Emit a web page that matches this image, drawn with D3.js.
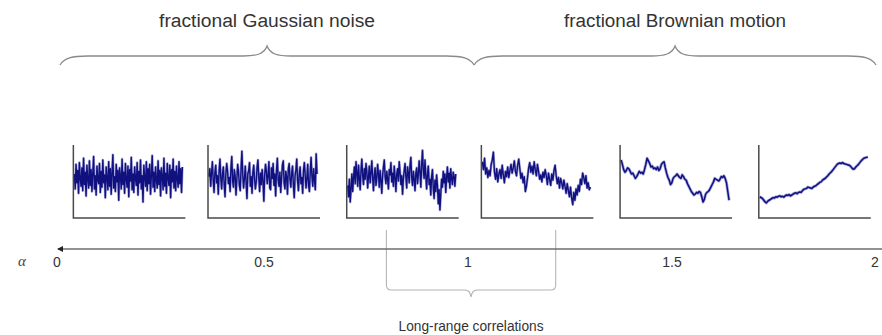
<!DOCTYPE html>
<html>
<head>
<meta charset="utf-8">
<script src="https://cdn.jsdelivr.net/npm/d3@7"></script>
<style>
  html, body { margin: 0; padding: 0; background: #fff; }
  svg { display: block; }
  text { font-family: "Liberation Sans", Arial, sans-serif; fill: #333; }
</style>
</head>
<body>
<svg id="chart"></svg>
<script>
// alpha axis
const alphaTicks = [0, 0.5, 1, 1.5, 2];
const tickLabels = ["0", "0.5", "1", "1.5", "2"];

// braces over the axis (alpha ranges)
const braceRanges = [[0, 1.015], [1.015, 2]];
const braceLabels = ["fractional Gaussian noise", "fractional Brownian motion"];
const bracketRange = [0.8, 1.215];
const bracketLabel = "Long-range correlations";

// alpha at the centre of each sample panel
const panelAlphas = [0.17, 0.5, 0.84, 1.17, 1.51, 1.85];

// sample series (arbitrary units)
const series1 = [0.8,-0.9,1.9,-0.2,1.2,-1.4,2.1,0.3,-0.6,1.5,-1.1,2.6,-0.4,1.0,-1.7,1.8,0.2,-0.8,2.3,-0.5,1.3,-1.2,0.9,2.8,-0.9,0.6,-1.6,1.7,0.1,-0.3,2.0,-1.3,1.1,-0.7,2.4,-0.2,0.7,-1.9,1.6,0.4,-1.0,2.2,-0.6,1.4,-1.5,0.9,3.0,-0.8,0.5,-1.2,1.9,-0.1,1.2,-2.2,1.5,0.6,-0.9,2.5,-0.4,1.0,-1.4,2.0,0.2,-0.7,1.7,-1.8,1.3,0.0,2.7,-1.0,0.8,-1.3,1.6,0.3,-0.5,2.1,-1.6,1.1,-0.2,2.4,-0.9,0.6,-2.4,1.8,0.4,-0.6,2.2,-1.1,1.4,-0.3,1.9,-1.5,0.7,2.9,-0.7,1.0,-1.2,1.6,0.1,-0.8,2.3,-0.4,1.2,-1.7,1.5,0.5,-1.0,2.6,-0.6,0.9,-1.4,2.0,0.3,-0.5,1.8,-1.9,1.3,-0.1,2.5,-0.8,1.1,-1.1,1.7,0.2,-0.7,2.2,-0.3,1.4,-1.3,1.6];
const series2 = [0.5,1.4,-0.6,0.9,2.2,0.1,-1.3,1.0,1.8,-0.2,0.6,-1.5,1.2,2.5,0.3,-0.9,0.8,1.6,-0.4,-1.8,0.9,2.0,1.1,-0.3,0.4,-1.2,1.5,2.8,0.0,-0.7,1.3,0.6,-1.6,0.2,1.9,1.0,-0.5,-1.1,1.4,3.4,0.7,-0.8,0.3,1.7,-0.2,-2.0,0.8,1.2,2.1,-0.6,0.5,-1.4,1.0,1.8,0.2,-0.9,-0.1,1.6,2.4,0.4,-1.2,0.9,-0.4,1.3,0.0,-2.3,0.7,1.9,1.1,-0.3,0.6,2.2,-0.8,-1.0,1.5,0.3,2.0,-0.5,0.8,-1.7,1.2,2.6,0.1,-0.6,1.0,-1.3,0.4,1.8,2.3,-0.2,-0.9,1.1,0.5,-1.5,1.4,2.0,0.2,-0.7,0.9,1.7,-0.4,-1.9,0.6,1.3,2.5,0.0,-1.1,0.8,1.6,-0.3,0.4,-1.4,1.2,2.1,0.7,-0.8,0.3,1.9,-0.5,-1.2,1.0,2.7,0.5,-0.6,1.4,0.1,-1.0,3.1,0.8];
const series3 = [-0.5,-1.8,0.2,-2.4,-0.9,0.8,-1.2,0.4,1.6,-0.3,2.2,0.9,-0.6,1.8,0.3,-1.0,1.2,2.5,0.6,-0.4,1.4,0.2,2.0,1.1,-0.8,0.5,1.7,-0.2,0.9,2.3,0.4,-1.1,0.7,1.5,-0.5,0.3,1.9,0.8,-0.7,1.2,0.1,-1.4,0.6,1.6,2.4,0.5,-0.3,1.1,0.2,-0.9,1.3,0.7,2.1,-0.1,0.9,-0.6,1.7,0.4,-1.2,0.8,1.4,0.0,2.2,1.0,-0.4,0.6,-1.5,0.3,1.2,2.0,0.5,-0.8,1.6,0.9,-0.2,1.8,2.7,0.4,-0.5,1.1,0.2,-1.1,0.9,1.5,-0.3,0.7,2.3,1.0,-0.7,1.9,3.5,1.2,0.3,2.4,0.6,-0.9,0.8,1.7,-0.4,0.2,-1.6,0.5,1.3,-0.8,-2.0,0.1,-1.2,0.7,-0.5,-2.6,-1.0,-3.3,-1.5,0.2,-0.7,1.1,-0.2,0.8,-1.3,0.4,1.6,-0.1,0.9,-0.8,1.4,0.3,-0.4,1.0,0.5,-0.6,0.8];
const series4 = [2.2,1.3,2.6,0.8,1.5,0.4,1.2,0.6,1.9,2.4,3.3,1.0,0.2,1.4,-0.1,0.8,1.3,0.3,1.8,0.7,-0.2,1.1,0.5,1.6,0.4,1.2,1.9,0.9,1.5,2.3,1.1,0.6,1.8,2.5,1.4,0.3,0.9,-0.2,0.5,-1.2,-0.6,0.4,1.5,2.1,1.0,1.7,0.8,2.2,1.3,0.6,1.9,1.1,0.2,0.7,-0.1,1.0,0.4,1.3,0.6,-0.4,0.9,0.2,-0.5,0.8,0.1,1.2,1.8,0.6,-0.3,0.4,-0.8,0.3,-0.2,-0.9,0.1,-0.6,-1.4,-0.3,-1.1,-1.8,-0.7,-1.9,-2.7,-1.3,-2.2,-0.9,-1.6,-0.5,-1.2,0.2,-0.4,0.9,0.4,-0.3,0.6,-0.8,-0.2,-1.0,-0.7];
const series5 = [2.4,1.9,1.3,1.0,1.2,1.5,1.4,1.1,0.8,0.9,0.6,0.3,0.5,0.8,1.1,0.9,1.0,0.8,1.3,1.9,2.6,2.3,2.0,1.6,1.7,1.4,1.5,1.3,1.6,1.2,1.4,1.9,2.1,2.2,1.5,0.9,0.4,0.1,-0.4,-0.2,0.3,0.5,0.6,0.8,0.6,0.4,0.3,0.7,0.5,0.2,0.1,-0.3,-0.6,-0.9,-1.2,-1.4,-1.6,-1.5,-1.3,-1.4,-1.2,-1.3,-1.8,-2.4,-2.1,-1.5,-1.3,-1.2,-1.0,-0.7,-0.4,-0.1,0.3,0.2,0.1,0.0,0.2,0.5,0.4,0.6,0.3,-0.2,-1.2,-2.2];
const series6 = [-1.8,-1.9,-2.0,-2.2,-2.4,-2.5,-2.3,-2.2,-2.1,-2.0,-1.9,-1.95,-1.8,-1.85,-1.75,-1.7,-1.8,-1.75,-1.85,-1.7,-1.6,-1.65,-1.55,-1.7,-1.6,-1.5,-1.4,-1.35,-1.45,-1.3,-1.25,-1.3,-1.1,-0.95,-0.9,-0.85,-0.7,-0.75,-0.8,-0.85,-0.7,-0.6,-0.55,-0.4,-0.3,-0.15,-0.1,0.1,0.2,0.3,0.45,0.6,0.8,0.95,1.1,1.3,1.5,1.7,1.9,2.0,2.05,2.0,2.1,2.0,1.95,1.9,1.85,1.8,1.7,1.5,1.35,1.4,1.6,1.75,1.9,2.1,2.3,2.45,2.6,2.65,2.7,2.75];
const allSeries = [series1, series2, series3, series4, series5, series6];

const width = 882, height = 335;
const svg = d3.select('#chart').attr('width', width).attr('height', height);

const x = d3.scaleLinear().domain([0, 2]).range([60, 876]);

// ---- top braces ----
const braceY = 56, braceH = 9;
function bracePath(x0, x1) {
  const m = (x0 + x1) / 2;
  return `M${x0},${braceY + braceH} C${x0 + 4},${braceY + 2} ${x0 + 12},${braceY} ${x0 + 28},${braceY}`
    + ` L${m - 24},${braceY} C${m - 10},${braceY} ${m - 3},${braceY - 2} ${m},${braceY - braceH - 1}`
    + ` C${m + 3},${braceY - 2} ${m + 10},${braceY} ${m + 24},${braceY}`
    + ` L${x1 - 28},${braceY} C${x1 - 12},${braceY} ${x1 - 4},${braceY + 2} ${x1},${braceY + braceH}`;
}
svg.selectAll('path.brace')
  .data(braceRanges)
  .join('path')
  .attr('class', 'brace')
  .attr('d', d => bracePath(x(d[0]), x(d[1])))
  .attr('fill', 'none')
  .attr('stroke', '#8a8a8a')
  .attr('stroke-width', 1.3);

svg.selectAll('text.brace-label')
  .data(braceRanges)
  .join('text')
  .attr('class', 'brace-label')
  .attr('x', d => x((d[0] + d[1]) / 2))
  .attr('y', 27)
  .attr('text-anchor', 'middle')
  .attr('font-size', 18)
  .attr('textLength', (d, i) => i === 0 ? 216 : 222)
  .attr('lengthAdjust', 'spacingAndGlyphs')
  .text((d, i) => braceLabels[i]);

// ---- bottom bracket ----
const bx0 = x(bracketRange[0]), bx1 = x(bracketRange[1]), bm = (bx0 + bx1) / 2;
const bTop = 230, bBot = 290, r = 5;
svg.append('path')
  .attr('d', `M${bx0},${bTop} L${bx0},${bBot - r} Q${bx0},${bBot} ${bx0 + r},${bBot}`
    + ` L${bm - 6},${bBot} Q${bm - 1},${bBot} ${bm},${bBot + 7} Q${bm + 1},${bBot} ${bm + 6},${bBot}`
    + ` L${bx1 - r},${bBot} Q${bx1},${bBot} ${bx1},${bBot - r} L${bx1},${bTop}`)
  .attr('fill', 'none')
  .attr('stroke', '#b4b4b4')
  .attr('stroke-width', 1.1);

svg.append('text')
  .attr('x', bm)
  .attr('y', 331)
  .attr('text-anchor', 'middle')
  .attr('font-size', 14)
  .attr('textLength', 145)
  .attr('lengthAdjust', 'spacingAndGlyphs')
  .text(bracketLabel);

// ---- alpha axis ----
const axisY = 249;
svg.append('line')
  .attr('x1', x(0) - 2).attr('x2', width)
  .attr('y1', axisY).attr('y2', axisY)
  .attr('stroke', '#6e6e6e')
  .attr('stroke-width', 1.5);
svg.append('path')
  .attr('d', `M${x(0) - 3},${axisY} l6,-3 l0,6 z`)
  .attr('fill', '#222');

svg.selectAll('text.tick')
  .data(alphaTicks)
  .join('text')
  .attr('class', 'tick')
  .attr('x', d => x(d) - (d === 0 ? 3 : 0) + (d === 2 ? -1 : 0))
  .attr('y', 267)
  .attr('text-anchor', 'middle')
  .attr('font-size', 14)
  .text((d, i) => tickLabels[i]);

svg.append('text')
  .attr('x', 22)
  .attr('y', 266)
  .attr('text-anchor', 'middle')
  .attr('font-size', 15)
  .attr('font-style', 'italic')
  .style('font-family', '"Liberation Serif", "DejaVu Serif", serif')
  .style('fill', '#444')
  .text('α');

// ---- sample panels ----
const panelW = 112, panelTop = 145, panelBot = 218;
const y = d3.scaleLinear().domain([-4, 4]).range([216, 146]);

const panels = svg.selectAll('g.panel')
  .data(allSeries)
  .join('g')
  .attr('class', 'panel')
  .attr('transform', (d, i) => `translate(${x(panelAlphas[i]) - panelW / 2},0)`);

panels.each(function (values, k) {
  const g = d3.select(this);
  const noisy = k < 4;
  const px = d3.scaleLinear().domain([0, values.length - 1]).range([1, panelW - 3]);
  const line = d3.line().x((d, i) => px(i)).y(d => y(d));
  g.append('path')
    .attr('d', line(values))
    .attr('fill', 'none')
    .attr('stroke', '#6c6cc8')
    .attr('stroke-width', noisy ? 2.6 : 3)
    .attr('stroke-opacity', 0.6)
    .attr('stroke-linejoin', 'round');
  g.append('path')
    .attr('d', line(values))
    .attr('fill', 'none')
    .attr('stroke', '#10107e')
    .attr('stroke-width', noisy ? 1.4 : 1.5)
    .attr('stroke-linejoin', 'round');
  g.append('path')
    .attr('d', `M0,${panelTop} L0,${panelBot} L${panelW},${panelBot}`)
    .attr('fill', 'none')
    .attr('stroke', '#4a4a4a')
    .attr('stroke-width', 1.5);
});
</script>
</body>
</html>
